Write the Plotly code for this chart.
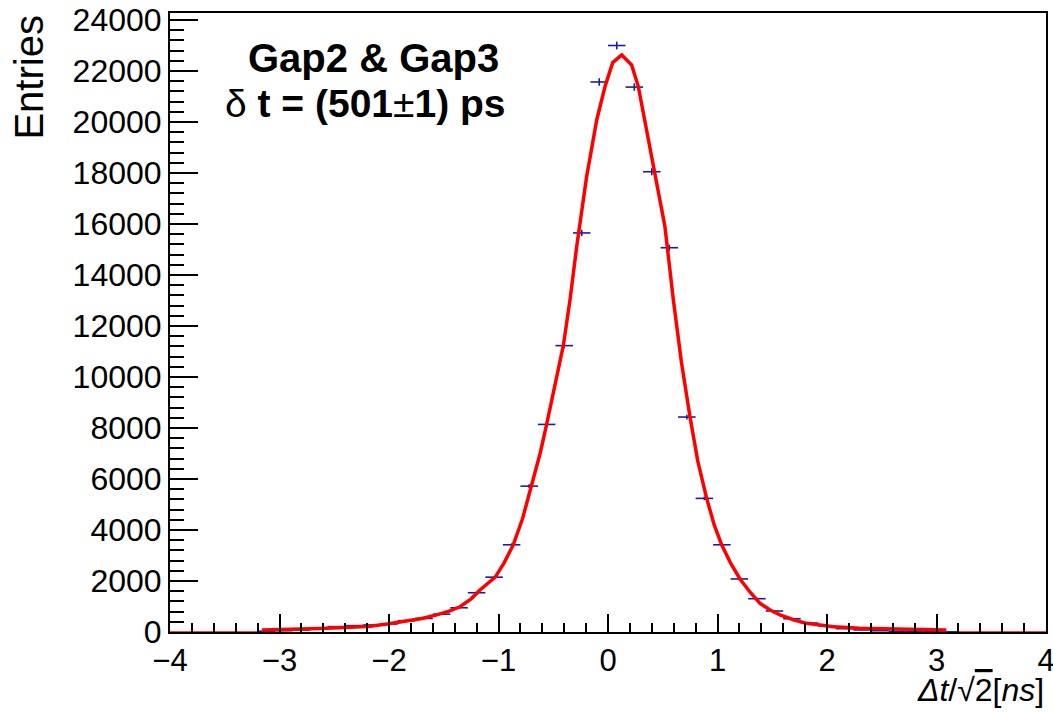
import numpy as np
import plotly.graph_objects as go

# Histogram bin centres (width 0.16 ns) and contents
bin_centers = [-3.12, -2.96, -2.80, -2.64, -2.48, -2.32, -2.16, -2.00, -1.84, -1.68,
               -1.52, -1.36, -1.20, -1.04, -0.88, -0.72, -0.56, -0.40, -0.24, -0.08,
               0.08, 0.24, 0.40, 0.56, 0.72, 0.88, 1.04, 1.20, 1.36, 1.52,
               1.68, 1.84, 2.00, 2.16, 2.32, 2.48, 2.64, 2.80, 2.96, 3.12]
bin_counts = [30, 50, 80, 150, 210, 250, 275, 314, 443, 530,
              700, 950, 1540, 2150, 3420, 5720, 8140, 11230, 15650, 21570,
              23000, 21370, 18050, 15070, 8430, 5240, 3420, 2080, 1306, 824,
              520, 350, 235, 130, 80, 50, 30, 20, 10, 5]
bin_half_width = [0.08] * len(bin_centers)

# Fit curve
fit_x = [-3.16, -2.9, -2.63, -2.4, -2.17, -2.0, -1.87, -1.7, -1.564, -1.45,
         -1.352, -1.25, -1.169, -1.1, -1.03, -0.95, -0.865, -0.78, -0.697, -0.62,
         -0.56, -0.48, -0.408, -0.347, -0.286, -0.195, -0.103, -0.027, 0.043, 0.125,
         0.216, 0.277, 0.353, 0.429, 0.52, 0.597, 0.67, 0.749, 0.82, 0.901,
         0.97, 1.038, 1.12, 1.205, 1.3, 1.388, 1.48, 1.571, 1.7, 1.814,
         2.058, 2.3, 2.6, 3.09]
fit_y = [80, 100, 140, 180, 230, 320, 400, 530, 670, 820,
         990, 1300, 1650, 1900, 2150, 2700, 3420, 4450, 5720, 7000,
         8150, 9700, 11230, 13020, 15110, 17860, 20080, 21390, 22330, 22630,
         22240, 21390, 19690, 17860, 15900, 13020, 10600, 8430, 6700, 5240,
         4200, 3420, 2700, 2080, 1550, 1125, 860, 670, 470, 340,
         210, 145, 110, 80]
# Thin fit-function line outside the fit range
outside_left_x = [-4.0, -3.16]
outside_right_x = [3.09, 4.0]
outside_y = [0, 0]

x_tick_vals = [-4, -3, -2, -1, 0, 1, 2, 3, 4]
y_tick_vals = list(range(0, 24001, 2000))

FONT = "Liberation Sans, Arial, Helvetica, sans-serif"
BLUE = "#1c1ca0"
RED = "#ff0000"

fig = go.Figure()

fig.add_trace(go.Scatter(x=outside_left_x, y=outside_y, mode="lines",
                         line=dict(color=RED, width=1.5), hoverinfo="skip",
                         showlegend=False))
fig.add_trace(go.Scatter(x=outside_right_x, y=outside_y, mode="lines",
                         line=dict(color=RED, width=1.5), hoverinfo="skip",
                         showlegend=False))

fig.add_trace(go.Scatter(
    x=bin_centers, y=bin_counts, mode="markers",
    marker=dict(size=1, color=BLUE, opacity=0),
    error_x=dict(type="data", array=bin_half_width, color=BLUE, thickness=1.6, width=0),
    error_y=dict(type="data", array=list(np.sqrt(bin_counts)), color=BLUE, thickness=1.6, width=0),
    showlegend=False))

fig.add_trace(go.Scatter(x=fit_x, y=fit_y, mode="lines",
                         line=dict(color=RED, width=3.5), showlegend=False))

fig.update_xaxes(
    range=[-4, 4], tickvals=x_tick_vals, ticks="inside", ticklen=18, tickwidth=1.5,
    tickcolor="black", showline=True, linecolor="black", linewidth=2, mirror=True,
    showgrid=False, zeroline=False, automargin=False, ticklabeloverflow="allow",
    tickfont=dict(family=FONT, size=31, color="black"),
    minor=dict(ticks="inside", ticklen=9, dtick=0.2, tickwidth=1.5, tickcolor="black",
               showgrid=False),
)
fig.update_yaxes(
    range=[0, 24275], tickvals=y_tick_vals, tickformat="d", ticks="inside", ticklen=28,
    tickwidth=1.5, tickcolor="black", showline=True, linecolor="black", linewidth=2,
    mirror=True, showgrid=False, zeroline=False, automargin=False,
    ticklabeloverflow="allow",
    tickfont=dict(family=FONT, size=32, color="black"),
    minor=dict(ticks="inside", ticklen=14, dtick=400, tickwidth=1.5, tickcolor="black",
               showgrid=False),
)

fig.add_annotation(text="Entries", xref="paper", yref="paper", x=-0.162, y=1.0,
                   textangle=-90, showarrow=False, xanchor="center", yanchor="top",
                   font=dict(family=FONT, size=40, color="black"))
fig.add_annotation(
    text="<i>Δt</i>/√<span style='text-decoration:overline'>2</span>[<i>ns</i>]",
    xref="paper", yref="paper", x=1.0, y=-0.061, showarrow=False,
    xanchor="right", yanchor="top",
    font=dict(family=FONT, size=32, color="black"))

fig.add_annotation(text="<b>Gap2 & Gap3</b>", xref="paper", yref="paper",
                   x=(246 - 170) / 876, y=(632 - 34) / 619, showarrow=False,
                   xanchor="left", yanchor="top",
                   font=dict(family=FONT, size=40, color="black"))
fig.add_annotation(text="δ <b>t = (501</b>±<b>1) ps</b>", xref="paper", yref="paper",
                   x=(223 - 170) / 876, y=(632 - 80) / 619, showarrow=False,
                   xanchor="left", yanchor="top",
                   font=dict(family=FONT, size=39, color="black"))

fig.update_layout(
    width=1053, height=712,
    margin=dict(l=170, r=7, t=13, b=80),
    paper_bgcolor="white", plot_bgcolor="white",
    font=dict(family=FONT, color="black"),
)

fig.write_html("out.html")
